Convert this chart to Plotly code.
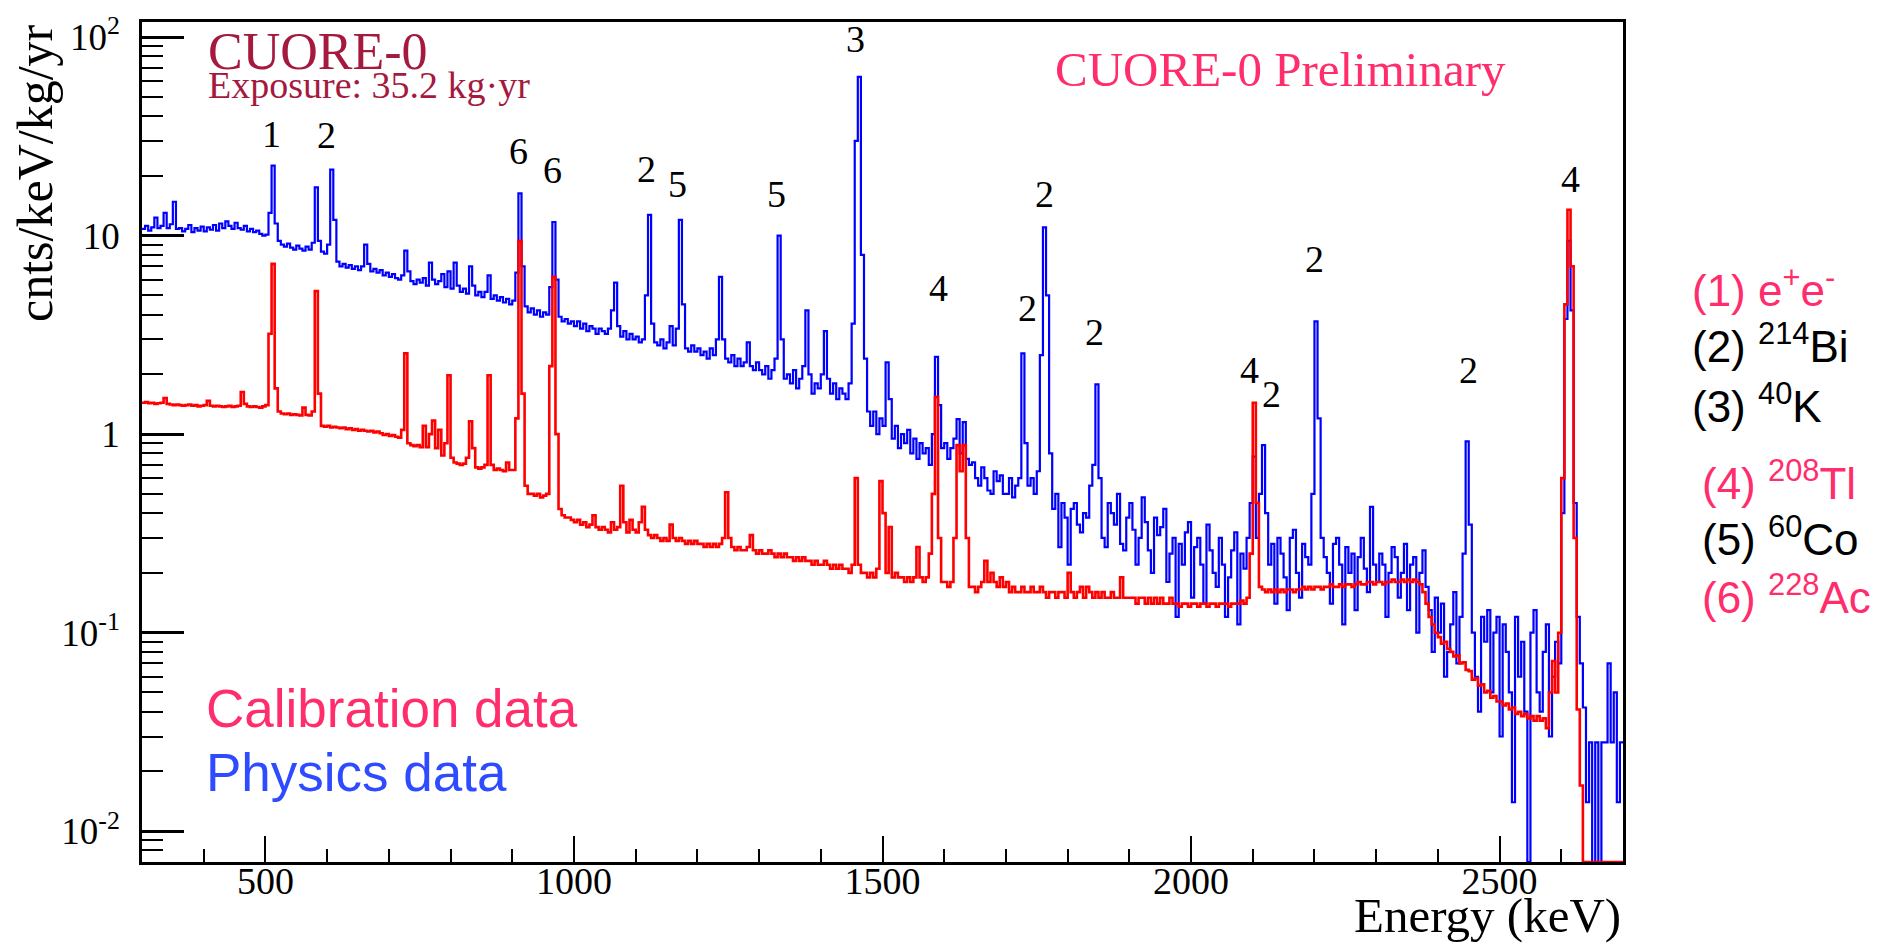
import numpy as np
import plotly.graph_objects as go

# Binning of both spectra (keV)
E_START = 300
BIN_WIDTH = 5

# Physics (background) data, cnts/keV/kg/yr per 5 keV bin, 300-2700 keV
PHYSICS_RATE = [
    10.8, 11.2, 10.6, 11.0, 12.3, 10.9, 11.2, 13.0, 10.9, 11.4, 14.8, 10.8, 10.9, 10.5, 10.8, 11.3, 10.4, 10.9, 10.6, 11.1,
    10.5, 11.0, 10.7, 11.3, 10.6, 11.5, 10.9, 11.8, 11.2, 10.8, 11.6, 10.9, 10.7, 11.2, 10.5, 10.8, 10.4, 10.6, 10.2, 10.0,
    10.1, 13.0, 22.5, 11.5, 9.4, 9.0, 8.8, 9.1, 8.7, 8.5, 8.9, 8.6, 8.4, 8.8, 8.5, 9.2, 17.5, 9.4, 8.3, 8.1,
    9.0, 21.5, 12.0, 7.4, 7.0, 7.2, 6.9, 7.1, 6.8, 7.0, 6.7, 7.0, 9.0, 7.2, 6.6, 6.8, 6.5, 6.7, 6.3, 6.5,
    6.2, 6.4, 6.1, 6.0, 6.3, 8.4, 6.6, 5.9, 5.7, 6.0, 5.8, 6.1, 5.6, 7.3, 6.0, 5.7, 5.9, 6.4, 5.5, 6.6,
    5.4, 7.3, 5.6, 5.2, 5.4, 5.1, 7.0, 5.6, 5.0, 5.2, 4.9, 5.2, 6.3, 4.8, 5.0, 4.7, 4.9, 4.6, 4.8, 4.5,
    4.7, 6.5, 16.3, 7.0, 4.4, 4.1, 4.3, 4.0, 4.2, 3.9, 4.1, 4.0, 5.5, 11.7, 6.0, 3.9, 3.7, 3.8, 3.6, 3.7,
    3.5, 3.7, 3.4, 3.6, 3.3, 3.5, 3.4, 3.2, 3.4, 3.3, 3.2, 3.4, 4.2, 5.8, 3.5, 3.1, 3.3, 3.0, 3.2, 3.0,
    3.1, 2.9, 3.0, 5.0, 12.7, 3.6, 2.9, 2.8, 3.0, 2.7, 2.9, 3.5, 2.8, 3.4, 12.0, 4.5, 2.7, 2.6, 2.8, 2.6,
    2.7, 2.5, 2.6, 2.4, 2.7, 2.5, 3.0, 6.2, 3.0, 2.4, 2.3, 2.5, 2.2, 2.4, 2.2, 2.3, 2.9, 2.2, 2.1, 2.3,
    2.1, 2.0, 2.2, 1.9, 2.1, 2.4, 10.0, 3.0, 1.9, 2.0, 1.8, 2.1, 1.7, 1.9, 2.2, 4.2, 2.0, 1.6, 1.8, 1.7,
    2.0, 3.3, 1.9, 1.6, 1.8, 1.5, 1.7, 1.6, 1.5, 1.8, 3.6, 30.0, 63.0, 8.0, 2.4, 1.3, 1.1, 1.3, 1.0, 1.2,
    1.1, 2.3, 1.5, 0.95, 1.1, 0.85, 1.0, 0.9, 1.05, 0.8, 0.95, 0.75, 0.9, 0.8, 0.85, 0.7, 1.0, 2.45, 1.4, 0.85,
    0.9, 0.75, 0.85, 0.95, 1.19, 0.8, 1.15, 0.75, 0.7, 0.72, 0.6, 0.55, 0.68, 0.6, 0.52, 0.5, 0.65, 0.58, 0.62, 0.5,
    0.5, 0.6, 0.48, 0.55, 0.6, 2.55, 0.9, 0.55, 0.6, 0.5, 0.65, 2.5, 11.0, 5.0, 0.8, 0.42, 0.5, 0.27, 0.45, 0.38,
    0.22, 0.42, 0.45, 0.35, 0.32, 0.4, 0.38, 0.55, 0.7, 1.78, 0.6, 0.3, 0.27, 0.45, 0.4, 0.35, 0.5, 0.28, 0.26, 0.38,
    0.45, 0.33, 0.22, 0.3, 0.48, 0.36, 0.26, 0.2, 0.38, 0.31, 0.34, 0.42, 0.18, 0.25, 0.3, 0.12, 0.28, 0.22, 0.32, 0.36,
    0.15, 0.27, 0.3, 0.22, 0.14, 0.35, 0.26, 0.2, 0.17, 0.3, 0.22, 0.12, 0.19, 0.26, 0.32, 0.11, 0.25, 0.21, 0.3, 0.45,
    0.77, 0.3, 0.5, 0.88, 0.4, 0.22, 0.28, 0.14, 0.3, 0.25, 0.19, 0.13, 0.3, 0.33, 0.2, 0.15, 0.28, 0.24, 0.22, 0.5,
    3.7, 1.2, 0.3, 0.24, 0.2, 0.14, 0.28, 0.3, 0.22, 0.11, 0.27, 0.2, 0.25, 0.13, 0.24, 0.3, 0.21, 0.16, 0.43, 0.22,
    0.18, 0.25, 0.22, 0.12, 0.2, 0.27, 0.24, 0.15, 0.2, 0.28, 0.13, 0.22, 0.24, 0.1, 0.2, 0.26, 0.17, 0.13, 0.08, 0.15,
    0.1, 0.14, 0.06, 0.08, 0.11, 0.16, 0.07, 0.12, 0.25, 0.92, 0.35, 0.1, 0.06, 0.04, 0.12, 0.09, 0.13, 0.05, 0.1, 0.12,
    0.03, 0.11, 0.08, 0.05, 0.014, 0.12, 0.06, 0.09, 0.04, 0, 0.1, 0.13, 0.05, 0.04, 0.08, 0.11, 0.03, 0.06, 0.09, 0.07,
    0.4, 3.8, 9.4, 4.2, 0.45, 0.12, 0.07, 0.042, 0.014, 0.028, 0, 0.028, 0, 0.028, 0.028, 0.07, 0.028, 0.05, 0.014, 0.028,
]

# Calibration data, same binning
CALIB_RATE = [
    1.44, 1.45, 1.43, 1.44, 1.42, 1.43, 1.44, 1.52, 1.42, 1.41, 1.40, 1.41, 1.40, 1.39, 1.40, 1.41, 1.39, 1.40, 1.38, 1.39,
    1.40, 1.47, 1.39, 1.38, 1.39, 1.38, 1.37, 1.38, 1.39, 1.37, 1.38, 1.39, 1.63, 1.42, 1.38, 1.37, 1.38, 1.37, 1.36, 1.38,
    1.40, 3.2, 7.2, 1.7, 1.30, 1.27, 1.26, 1.27, 1.25, 1.26, 1.25, 1.24, 1.36, 1.25, 1.24, 1.30, 5.25, 1.6, 1.10, 1.09,
    1.10, 1.08, 1.09, 1.08, 1.07, 1.08, 1.06, 1.07, 1.05, 1.06, 1.04, 1.05, 1.04, 1.03, 1.04, 1.02, 1.03, 1.01, 0.99, 1.0,
    0.98, 0.99, 0.97, 0.96, 1.05, 2.55, 0.9, 0.88, 0.87, 0.88, 0.86, 1.10, 0.86, 1.0, 1.17, 0.85, 1.05, 0.78, 0.9, 1.98,
    0.76, 0.72, 0.71, 0.70, 0.71, 0.76, 1.16, 0.85, 0.68, 0.67, 0.68, 0.7, 1.98, 0.70, 0.66, 0.67, 0.66, 0.65, 0.72, 0.66,
    0.66, 1.2, 9.4, 1.6, 0.55, 0.5, 0.5, 0.49, 0.5, 0.48, 0.49, 0.5, 2.2, 6.2, 1.0, 0.42, 0.39, 0.38, 0.38, 0.37,
    0.36, 0.37, 0.35, 0.36, 0.34, 0.35, 0.39, 0.34, 0.33, 0.34, 0.33, 0.32, 0.36, 0.33, 0.34, 0.55, 0.36, 0.32, 0.37, 0.33,
    0.32, 0.36, 0.43, 0.33, 0.31, 0.30, 0.31, 0.30, 0.29, 0.30, 0.29, 0.35, 0.3, 0.29, 0.3, 0.29, 0.28, 0.29, 0.28, 0.29,
    0.28, 0.28, 0.27, 0.28, 0.27, 0.28, 0.27, 0.28, 0.30, 0.51, 0.3, 0.27, 0.26, 0.27, 0.26, 0.26, 0.27, 0.31, 0.26, 0.25,
    0.26, 0.25, 0.25, 0.26, 0.25, 0.24, 0.25, 0.24, 0.25, 0.24, 0.24, 0.23, 0.24, 0.23, 0.24, 0.23, 0.23, 0.22, 0.23, 0.22,
    0.22, 0.23, 0.22, 0.21, 0.22, 0.21, 0.22, 0.21, 0.21, 0.2, 0.22, 0.6, 0.22, 0.2, 0.2, 0.19, 0.2, 0.19, 0.21, 0.58,
    0.4, 0.2, 0.34, 0.19, 0.2, 0.19, 0.19, 0.18, 0.19, 0.18, 0.19, 0.27, 0.19, 0.18, 0.19, 0.25, 0.5, 1.54, 0.3, 0.18,
    0.18, 0.17, 0.18, 0.3, 0.88, 0.65, 0.88, 0.3, 0.17, 0.17, 0.16, 0.17, 0.18, 0.23, 0.18, 0.2, 0.18, 0.17, 0.19, 0.17,
    0.18, 0.16, 0.17, 0.16, 0.16, 0.17, 0.16, 0.16, 0.17, 0.16, 0.16, 0.17, 0.16, 0.15, 0.16, 0.16, 0.15, 0.16, 0.16, 0.15,
    0.2, 0.16, 0.15, 0.16, 0.17, 0.15, 0.17, 0.16, 0.15, 0.16, 0.15, 0.16, 0.15, 0.15, 0.16, 0.15, 0.15, 0.19, 0.15, 0.15,
    0.15, 0.15, 0.14, 0.15, 0.15, 0.14, 0.15, 0.14, 0.15, 0.14, 0.15, 0.14, 0.14, 0.15, 0.14, 0.14, 0.135, 0.14, 0.14, 0.135,
    0.14, 0.14, 0.135, 0.14, 0.14, 0.135, 0.14, 0.14, 0.135, 0.14, 0.14, 0.14, 0.135, 0.14, 0.14, 0.14, 0.145, 0.14, 0.15, 0.25,
    1.44, 0.45, 0.17, 0.165, 0.16, 0.165, 0.16, 0.165, 0.16, 0.165, 0.16, 0.165, 0.165, 0.16, 0.165, 0.165, 0.17, 0.165, 0.17, 0.165,
    0.17, 0.17, 0.165, 0.17, 0.17, 0.175, 0.17, 0.17, 0.175, 0.17, 0.175, 0.175, 0.17, 0.175, 0.18, 0.175, 0.175, 0.18, 0.18, 0.175,
    0.18, 0.18, 0.175, 0.18, 0.18, 0.185, 0.18, 0.18, 0.185, 0.18, 0.185, 0.18, 0.185, 0.18, 0.175, 0.16, 0.14, 0.12, 0.11, 0.1,
    0.095, 0.088, 0.09, 0.083, 0.08, 0.076, 0.077, 0.07, 0.071, 0.065, 0.064, 0.058, 0.059, 0.054, 0.055, 0.05, 0.051, 0.047, 0.048, 0.045,
    0.045, 0.043, 0.044, 0.041, 0.042, 0.039, 0.04, 0.038, 0.039, 0.037, 0.038, 0.036, 0.038, 0.036, 0.037, 0.033, 0.05, 0.072, 0.05, 0.1,
    0.6, 4.5, 13.5, 7.0, 0.3, 0.041, 0.017, 0, 0, 0, 0, 0, 0, 0, 0, 0, 0, 0, 0, 0,
]

# Peak identification numbers drawn above the lines
PEAK_LABELS = ["1", "2", "6", "6", "2", "5", "5", "3", "4", "2", "2", "2", "4", "2", "2", "2", "4"]
PEAK_LABEL_E = [509.5, 599, 909.5, 966, 1117.4, 1167, 1328, 1457, 1591, 1735.6, 1762.4, 1844.3,
                2094, 2130, 2200, 2449.7, 2614.6]
PEAK_LABEL_RATE = [29.2, 28.9, 23.9, 19.2, 19.4, 16.3, 14.6, 88.5, 4.9, 3.9, 14.6, 2.93,
                   1.89, 1.44, 6.9, 1.9, 17.3]

# Key to the peak numbers
SOURCE_KEY = ["(1) e<sup>+</sup>e<sup>-</sup>", "(2) <sup>214</sup>Bi", "(3) <sup>40</sup>K",
              "(4) <sup>208</sup>Tl", "(5) <sup>60</sup>Co", "(6) <sup>228</sup>Ac"]

X_RANGE = [300, 2700]
Y_RANGE = [0.007, 119]

PINK = "#FF2D6B"
DARK_RED = "#A5193F"
PHYS_BLUE = "#2F4BFF"
SERIF = "Liberation Serif"
SANS = "Liberation Sans"
SERIF_LIFT = 9  # px, recentres serif glyphs in their text boxes

W, H = 1897, 949
ML, MR, MT, MB = 142, 274, 12, 87
PW, PH = W - ML - MR, H - MT - MB


def px_x(px):
    return (px - ML) / PW


def px_y(py):
    return (H - MB - py) / PH


def step_xy(rates):
    edges = E_START + BIN_WIDTH * np.arange(len(rates) + 1)
    vals = np.asarray(rates, dtype=float)
    # empty bins sit on the bottom of the frame
    vals = np.where(vals > 0, vals, Y_RANGE[0])
    return edges, np.append(vals, vals[-1])


fig = go.Figure()
xb, yb = step_xy(PHYSICS_RATE)
fig.add_trace(go.Scatter(x=xb, y=yb, mode="lines", line=dict(shape="hv", color="#0000FF", width=2.2),
                         showlegend=False, hoverinfo="skip"))
xc, yc = step_xy(CALIB_RATE)
fig.add_trace(go.Scatter(x=xc, y=yc, mode="lines", line=dict(shape="hv", color="#FF0000", width=2.6),
                         showlegend=False, hoverinfo="skip"))

annotations = []
for lab, e, r in zip(PEAK_LABELS, PEAK_LABEL_E, PEAK_LABEL_RATE):
    annotations.append(dict(x=e, y=np.log10(r), xref="x", yref="y", text=lab, showarrow=False,
                            font=dict(family=SERIF, size=38, color="black"),
                            xanchor="center", yanchor="middle", yshift=SERIF_LIFT))

annotations += [
    dict(x=px_x(206), y=px_y(51), xref="paper", yref="paper", text="CUORE-0", showarrow=False,
         font=dict(family=SERIF, size=52, color=DARK_RED), xanchor="left", yanchor="middle",
         yshift=SERIF_LIFT),
    dict(x=px_x(206), y=px_y(85), xref="paper", yref="paper", text="Exposure: 35.2 kg·yr", showarrow=False,
         font=dict(family=SERIF, size=38, color=DARK_RED), xanchor="left", yanchor="middle",
         yshift=SERIF_LIFT),
    dict(x=px_x(1053), y=px_y(69), xref="paper", yref="paper", text="CUORE-0 Preliminary", showarrow=False,
         font=dict(family=SERIF, size=49, color=PINK), xanchor="left", yanchor="middle",
         yshift=SERIF_LIFT),
    dict(x=px_x(204), y=px_y(707), xref="paper", yref="paper", text="Calibration data", showarrow=False,
         font=dict(family=SANS, size=53, color=PINK), xanchor="left", yanchor="middle"),
    dict(x=px_x(204), y=px_y(771), xref="paper", yref="paper", text="Physics data", showarrow=False,
         font=dict(family=SANS, size=53, color=PHYS_BLUE), xanchor="left", yanchor="middle"),
    dict(x=px_x(41), y=1.0, xref="paper", yref="paper", text="cnts/keV/kg/yr", showarrow=False,
         textangle=-90, font=dict(family=SERIF, size=50, color="black"), xanchor="center", yanchor="top",
         xshift=-6),
    dict(x=1.0, y=px_y(921), xref="paper", yref="paper", text="Energy (keV)", showarrow=False,
         font=dict(family=SERIF, size=49, color="black"), xanchor="right", yanchor="middle", yshift=5),
]

key_colors = [PINK, "black", "black", PINK, "black", PINK]
key_x = [1690, 1690, 1690, 1700, 1700, 1700]
key_y = [281, 337, 398, 476, 533, 591]
for txt, col, kx, ky in zip(SOURCE_KEY, key_colors, key_x, key_y):
    annotations.append(dict(x=px_x(kx), y=px_y(ky), xref="paper", yref="paper", text=txt, showarrow=False,
                            font=dict(family=SANS, size=44, color=col), xanchor="left", yanchor="middle"))

minor_y = [m * 10.0 ** k for k in range(-3, 3) for m in range(2, 10)
           if Y_RANGE[0] <= m * 10.0 ** k <= Y_RANGE[1]]

fig.update_layout(
    width=W, height=H,
    margin=dict(l=ML, r=MR, t=MT, b=MB, pad=0),
    paper_bgcolor="white", plot_bgcolor="white",
    annotations=annotations,
    xaxis=dict(
        range=X_RANGE, showgrid=False, zeroline=False,
        showline=True, linecolor="black", linewidth=2.5, mirror=True,
        ticks="inside", ticklen=26, tickwidth=2, tickcolor="black",
        tick0=0, dtick=500,
        minor=dict(ticks="inside", ticklen=13, tickwidth=2, tickcolor="black", dtick=100, showgrid=False),
        tickfont=dict(family=SERIF, size=38, color="black"),
        ticklabelstandoff=-16,
        layer="below traces",
    ),
    yaxis=dict(
        type="log", range=[np.log10(Y_RANGE[0]), np.log10(Y_RANGE[1])],
        showgrid=False, zeroline=False,
        showline=True, linecolor="black", linewidth=2.5, mirror=True,
        ticks="inside", ticklen=42, tickwidth=2.5, tickcolor="black",
        tickmode="array", tickvals=[0.01, 0.1, 1, 10, 100],
        ticktext=["10<sup>-2</sup>", "10<sup>-1</sup>", "1", "10", "10<sup>2</sup>"],
        minor=dict(ticks="inside", ticklen=21, tickwidth=2, tickcolor="black",
                   tickmode="array", tickvals=minor_y, showgrid=False),
        tickfont=dict(family=SERIF, size=37, color="black"),
        ticklabelstandoff=12,
    ),
)

fig.write_html("out.html")
